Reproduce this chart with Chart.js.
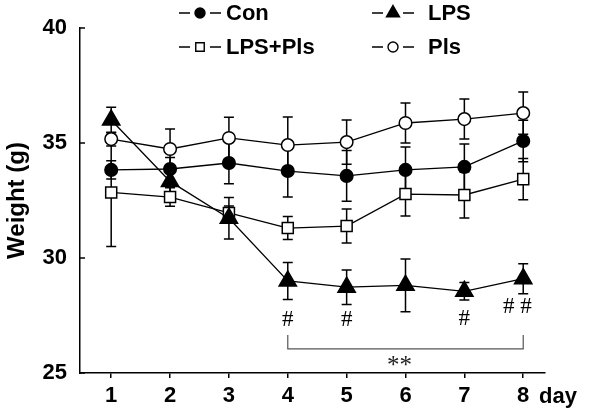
<!DOCTYPE html>
<html>
<head>
<meta charset="utf-8">
<script src="https://cdn.jsdelivr.net/npm/chart.js@4.4.1/dist/chart.umd.min.js"></script>
<style>
  html, body { margin: 0; padding: 0; background: #fff; }
  #wrap { width: 600px; height: 415px; position: relative; }
</style>
</head>
<body>
<div id="wrap"><canvas id="chart"></canvas></div>
<script>
// values (mean and SD per day)
const days = [1, 2, 3, 4, 5, 6, 7, 8];
const con = [33.83, 33.87, 34.13, 33.78, 33.57, 33.83, 33.96, 35.09];
const conSD = [0.4, 0.5, 0.9, 1.13, 1.1, 1.0, 1.0, 0.9];
const lps = [36.0, 33.33, 31.73, 29.0, 28.73, 28.81, 28.55, 29.1];
const lpsSD = [0.55, 0.45, 0.9, 0.8, 0.75, 1.15, 0.38, 0.65];
const lpsPls = [32.85, 32.65, 31.96, 31.3, 31.39, 32.78, 32.74, 33.43];
const lpsPlsSD = [2.35, 0.4, 0.3, 0.5, 0.74, 0.95, 1.0, 0.9];
const pls = [35.17, 34.74, 35.22, 34.91, 35.04, 35.87, 36.04, 36.3];
const plsSD = [0.3, 0.87, 0.9, 1.22, 0.96, 0.87, 0.87, 0.92];
const yTicks = [25, 30, 35, 40];

// significance marks
const hashDays = [4, 5, 7];
const hashY = [27.3, 27.3, 27.35];
const doubleHashDay = 7.9;
const doubleHashY = 27.85;
const bracketDays = [4, 8];
const bracketY = 26.05;
const bracketTopY = 26.65;
const starsDay = 5.9;
const starsY = 25.55;

const FONT = '"Liberation Sans", Arial, sans-serif';
const SERIF = '"Liberation Serif", "Times New Roman", serif';

function marker(ctx, style, x, y, r, fill) {
    ctx.beginPath();
    if (style === 'triangle') {
        ctx.moveTo(x, y - r);
        ctx.lineTo(x + r * 0.866, y + r / 2);
        ctx.lineTo(x - r * 0.866, y + r / 2);
        ctx.closePath();
    } else if (style === 'rect') {
        const s = r * Math.SQRT1_2;
        ctx.rect(x - s, y - s, 2 * s, 2 * s);
    } else {
        ctx.arc(x, y, r, 0, Math.PI * 2);
    }
    ctx.fillStyle = fill;
    ctx.fill();
    ctx.stroke();
}

const errorBars = {
    id: 'errorBars',
    beforeDatasetsDraw(chart) {
        const {ctx, scales: {x, y}} = chart;
        ctx.save();
        ctx.strokeStyle = '#000';
        ctx.lineWidth = 1.5;
        chart.data.datasets.forEach(ds => {
            ds.mean.forEach((v, i) => {
                const px = x.getPixelForValue(days[i]);
                const top = y.getPixelForValue(v + ds.sd[i]);
                const bot = y.getPixelForValue(v - ds.sd[i]);
                ctx.beginPath();
                ctx.moveTo(px, top); ctx.lineTo(px, bot);
                ctx.moveTo(px - 5, top); ctx.lineTo(px + 5, top);
                ctx.moveTo(px - 5, bot); ctx.lineTo(px + 5, bot);
                ctx.stroke();
            });
        });
        ctx.restore();
    }
};

const extras = {
    id: 'extras',
    afterDraw(chart) {
        const {ctx, chartArea, scales: {x, y}} = chart;
        ctx.save();
        // inward y ticks
        ctx.strokeStyle = '#000';
        ctx.lineWidth = 1.5;
        yTicks.forEach(t => {
            const py = y.getPixelForValue(t);
            ctx.beginPath();
            ctx.moveTo(chartArea.left, py);
            ctx.lineTo(chartArea.left + 5, py);
            ctx.stroke();
        });

        // x unit
        ctx.fillStyle = '#000';
        ctx.font = 'bold 22px ' + FONT;
        ctx.textAlign = 'left';
        ctx.textBaseline = 'middle';
        ctx.fillText('day', 539, 397);

        // # marks
        ctx.font = '23px ' + SERIF;
        ctx.textAlign = 'center';
        hashDays.forEach((d, i) => {
            ctx.fillText('#', x.getPixelForValue(d), y.getPixelForValue(hashY[i]));
        });
        ctx.fillText('# #', x.getPixelForValue(doubleHashDay), y.getPixelForValue(doubleHashY));

        // bracket
        const bx0 = x.getPixelForValue(bracketDays[0]);
        const bx1 = x.getPixelForValue(bracketDays[1]);
        const by = y.getPixelForValue(bracketY);
        const bt = y.getPixelForValue(bracketTopY);
        ctx.strokeStyle = '#555';
        ctx.lineWidth = 1.2;
        ctx.beginPath();
        ctx.moveTo(bx0, bt); ctx.lineTo(bx0, by); ctx.lineTo(bx1, by); ctx.lineTo(bx1, bt);
        ctx.stroke();
        ctx.fillStyle = '#222';
        ctx.font = '25px ' + SERIF;
        ctx.textBaseline = 'alphabetic';
        ctx.fillText('**', x.getPixelForValue(starsDay), y.getPixelForValue(starsY) + 13);

        // legend
        const spots = [[179, 13], [372, 13], [179, 47], [372, 47]];
        const textX = [226, 428, 226, 428];
        ctx.textAlign = 'left';
        ctx.textBaseline = 'middle';
        ctx.font = 'bold 22px ' + FONT;
        chart.data.datasets.forEach((ds, i) => {
            const [lx, ly] = spots[i];
            ctx.strokeStyle = '#000';
            ctx.lineWidth = 1.4;
            ctx.beginPath();
            ctx.moveTo(lx, ly); ctx.lineTo(lx + 11, ly);
            ctx.moveTo(lx + 31, ly); ctx.lineTo(lx + 42, ly);
            ctx.stroke();
            marker(ctx, ds.pointStyle, lx + 21, ly, ds.legendRadius, ds.pointBackgroundColor);
            ctx.fillStyle = '#000';
            ctx.fillText(ds.label, textX[i], ly + 1);
        });
        ctx.restore();
    }
};

function series(label, mean, sd, style, radius, fill, legendRadius) {
    return {
        label, mean, sd, legendRadius,
        data: mean.map((v, i) => ({x: days[i], y: v})),
        borderColor: '#000',
        borderWidth: 1.3,
        tension: 0,
        pointStyle: style,
        pointRadius: radius,
        pointHoverRadius: radius,
        pointBackgroundColor: fill,
        pointBorderColor: '#000',
        pointBorderWidth: 1.5
    };
}

const chart = new Chart(document.getElementById('chart').getContext('2d'), {
    type: 'line',
    data: {
        datasets: [
            series('Con', con, conSD, 'circle', 6.3, '#000', 5),
            series('LPS', lps, lpsSD, 'triangle', 10, '#000', 7.5),
            series('LPS+Pls', lpsPls, lpsPlsSD, 'rect', 7.8, '#fff', 6),
            series('Pls', pls, plsSD, 'circle', 6.3, '#fff', 5)
        ]
    },
    options: {
        responsive: true,
        maintainAspectRatio: false,
        animation: false,
        layout: {padding: {left: 0, right: 55, top: 28, bottom: 0}},
        plugins: {legend: {display: false}, tooltip: {enabled: false}},
        scales: {
            x: {
                type: 'linear',
                min: 0.47,
                max: 8.37,
                afterBuildTicks: s => { s.ticks = days.map(v => ({value: v})); },
                afterFit: s => { s.height = 42; },
                border: {display: true, color: '#000', width: 1.5},
                grid: {display: true, drawOnChartArea: false, drawTicks: true, tickLength: 5, color: '#000', lineWidth: 1.5},
                ticks: {color: '#000', padding: 5, font: {family: FONT, size: 22, weight: 'bold'}, maxRotation: 0}
            },
            y: {
                min: 25,
                max: 40,
                afterBuildTicks: s => { s.ticks = yTicks.map(v => ({value: v})); },
                afterFit: s => { s.width = 80; },
                border: {display: true, color: '#000', width: 1.5},
                grid: {display: true, drawOnChartArea: false, drawTicks: false},
                ticks: {color: '#000', padding: 13, font: {family: FONT, size: 22, weight: 'bold'}},
                title: {display: true, text: 'Weight (g)', color: '#000', padding: {top: 3, bottom: 0},
                        font: {family: FONT, size: 24, weight: 'bold'}}
            }
        }
    },
    plugins: [errorBars, extras]
});
</script>
</body>
</html>
